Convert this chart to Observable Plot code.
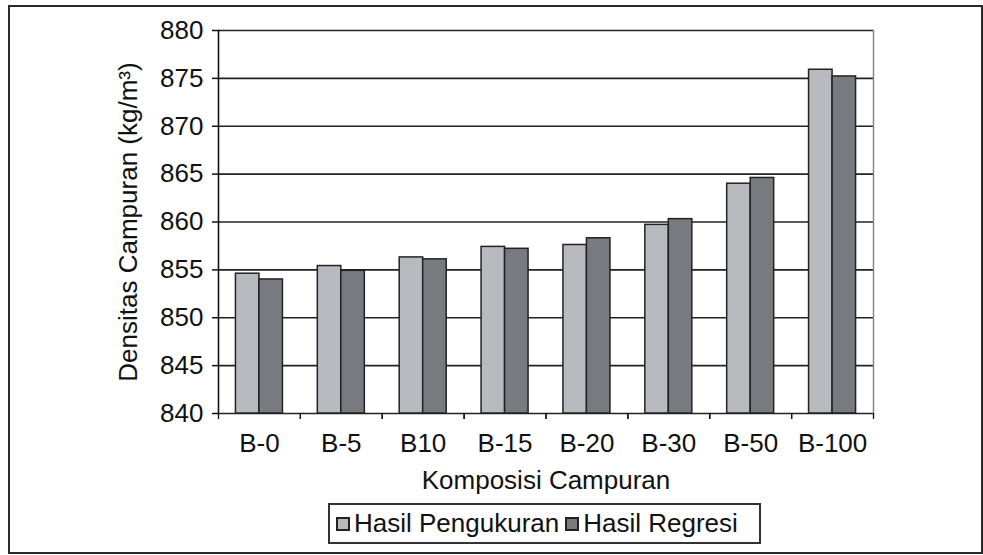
<!DOCTYPE html>
<html>
<head>
<meta charset="utf-8">
<script src="https://cdn.jsdelivr.net/npm/d3@7"></script>
<script src="https://cdn.jsdelivr.net/npm/@observablehq/plot@0.6"></script>
<style>
  html, body { margin: 0; padding: 0; background: #fff; }
  #wrap { position: relative; width: 983px; height: 555px; overflow: hidden; font-family: "Liberation Sans", Arial, sans-serif; }
  #border { position: absolute; left: 8px; top: 5px; width: 971px; height: 545px; border: 2px solid #2a2a2a; box-sizing: content-box; pointer-events: none; }
  #chart { position: absolute; left: 0; top: 0; }
  #legend { position: absolute; left: 328px; top: 503px; width: 429px; height: 37px; border: 2px solid #333; display: flex; align-items: center; font-size: 26px; color: #111; white-space: nowrap; }
  .sw { display: inline-block; width: 10px; height: 10px; border: 2px solid #222; margin: 0 4px 0 6px; }
</style>
</head>
<body>
<div id="wrap">
  <div id="chart"></div>
  <div id="legend"></div>
  <div id="border"></div>
</div>
<script>
const categories = ["B-0", "B-5", "B10", "B-15", "B-20", "B-30", "B-50", "B-100"];
const measured   = [854.6, 855.4, 856.3, 857.4, 857.6, 859.7, 864.0, 875.9];
const regression = [854.0, 854.9, 856.1, 857.2, 858.3, 860.3, 864.6, 875.2];
const seriesNames = ["Hasil Pengukuran", "Hasil Regresi"];
const seriesColors = ["#b9babf", "#797a80"];
const yTicks = [840, 845, 850, 855, 860, 865, 870, 875, 880];
const xLabel = "Komposisi Campuran";
const yLabel = "Densitas Campuran (kg/m³)";

const W = 983, H = 500, mL = 218, mR = 110, mT = 30, mB = 87;
const bw = (W - mL - mR) / categories.length;
const barW = bw * 0.287;
const gap0 = (bw - 2 * barW) / 2;

const rows = categories.map((c, i) => ({cat: c, m: measured[i], r: regression[i]}));
const yMin = yTicks[0];

const plot = Plot.plot({
  width: W, height: H,
  marginLeft: mL, marginRight: mR, marginTop: mT, marginBottom: mB,
  style: {fontFamily: "Liberation Sans, Arial, sans-serif", color: "#111", background: "transparent"},
  x: {type: "band", domain: categories, padding: 0, round: false},
  y: {domain: [yTicks[0], yTicks[yTicks.length - 1]]},
  marks: [
    Plot.gridY(yTicks, {stroke: "#222", strokeOpacity: 1, strokeWidth: 1.6}),
    Plot.frame({anchor: "right", stroke: "#888", strokeWidth: 1.5}),
    Plot.barY(rows, {x: "cat", y1: yMin, y2: "m", fill: seriesColors[0], stroke: "#222", strokeWidth: 1.5,
      insetLeft: gap0, insetRight: bw - gap0 - barW}),
    Plot.barY(rows, {x: "cat", y1: yMin, y2: "r", fill: seriesColors[1], stroke: "#222", strokeWidth: 1.5,
      insetLeft: gap0 + barW, insetRight: gap0}),
    Plot.frame({anchor: "left", stroke: "#111", strokeWidth: 1.6}),
    Plot.axisY({ticks: yTicks, tickSize: 6, tickPadding: 9, fontSize: 26, stroke: "#111", strokeWidth: 1.5,
      label: yLabel, labelAnchor: "center", labelArrow: "none", labelOffset: 100}),
    Plot.axisX({tickSize: 0, tickPadding: 20, fontSize: 26,
      label: xLabel, labelAnchor: "center", labelArrow: "none", labelOffset: 75}),
    Plot.axisX({tickSize: 6, tickFormat: () => "", dx: -bw / 2, label: null, stroke: "#111", strokeWidth: 1.3}),
    Plot.axisX({tickSize: 6, tickFormat: () => "", dx: bw / 2, label: null, stroke: "#111", strokeWidth: 1.3})
  ]
});
document.getElementById("chart").appendChild(plot);

const lg = document.getElementById("legend");
seriesNames.forEach((name, i) => {
  const sw = document.createElement("span");
  sw.className = "sw";
  sw.style.background = seriesColors[i];
  lg.appendChild(sw);
  const t = document.createElement("span");
  t.textContent = name;
  lg.appendChild(t);
});
</script>
</body>
</html>
